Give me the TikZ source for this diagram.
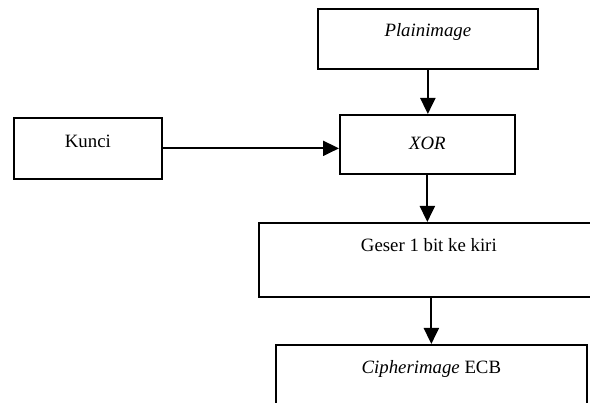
\documentclass[tikz,border=0pt]{standalone}
\usepackage{fontspec}
\setmainfont{Liberation Serif}
\usetikzlibrary{arrows.meta}

\begin{document}
\begin{tikzpicture}[
  x=1pt, y=-1pt,
  font=\fontsize{18.8}{22}\selectfont,
  box/.style={draw, line width=1.7pt, anchor=north west, inner sep=0pt, align=center},
  arr/.style={-{Triangle[length=16pt, width=15pt]}, line width=2pt}]
\useasboundingbox (0,0) rectangle (590,403);
\clip (0,0) rectangle (590,403);
\node[box, minimum width=220pt, text height=28pt, text depth=32pt] (plain) at (317,8) {\itshape Plainimage};
\node[box, minimum width=175pt, text height=35pt, text depth=24pt] (xor) at (339,114) {\itshape XOR};
\node[box, minimum width=148pt, text height=30pt, text depth=31pt] (kunci) at (13,117) {Kunci};
\node[box, minimum width=340pt, text height=29pt, text depth=45pt] (geser) at (258,222) {Geser 1 bit ke kiri};
\node[box, minimum width=311pt, text height=29pt, text depth=51pt] (cipher) at (275,344) {\textit{Cipherimage} ECB};
\draw[arr] (plain.south) -- (plain.south |- xor.north);
\draw[arr] (kunci.east) -- (kunci.east -| xor.west);
\draw[arr] (xor.south) -- (xor.south |- geser.north);
\draw[arr] (cipher.north |- geser.south) -- (cipher.north);
\end{tikzpicture}
\end{document}
